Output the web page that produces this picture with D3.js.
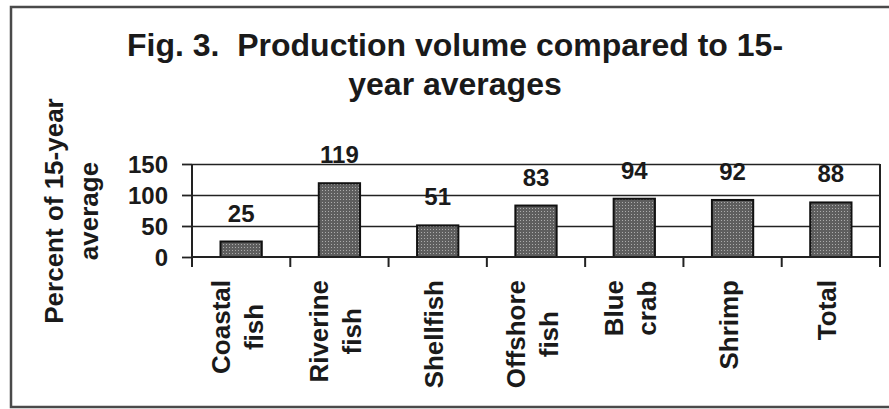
<!DOCTYPE html>
<html>
<head>
<meta charset="utf-8">
<script src="https://cdn.jsdelivr.net/npm/d3@7/dist/d3.min.js"></script>
<style>
  body { margin: 0; background: #fff; }
  svg text { font-family: "Liberation Sans", Arial, sans-serif; font-weight: bold; fill: #1a1a1a; }
</style>
</head>
<body>
<svg width="889" height="409"></svg>
<script>
// chart data
var categories = [['Coastal', 'fish'], ['Riverine', 'fish'], ['Shellfish'], ['Offshore', 'fish'], ['Blue', 'crab'], ['Shrimp'], ['Total']];
var values = [25, 119, 51, 83, 94, 92, 88];
var yTicks = [0, 50, 100, 150];
var titleLines = ['Fig. 3.\u00a0 Production volume compared to 15-', 'year averages'];
var yLabelLines = ['Percent of 15-year', 'average'];

var svg = d3.select('svg'),
    plot = {left: 192, right: 880, top: 164, bottom: 257};

var keys = categories.map(function(c) { return c.join(' '); });

var x = d3.scaleBand()
      .domain(keys)
      .range([plot.left, plot.right])
      .paddingInner(0.58)
      .paddingOuter(0.29),
    y = d3.scaleLinear()
      .domain([0, 150])
      .range([plot.bottom, plot.top]);

// dotted fill like the printed bars
var pat = svg.append('defs').append('pattern')
    .attr('id', 'dots')
    .attr('width', 3).attr('height', 3)
    .attr('patternUnits', 'userSpaceOnUse');
pat.append('rect').attr('width', 3).attr('height', 3).attr('fill', '#5e5e5e');
pat.append('rect').attr('x', 1).attr('y', 1).attr('width', 1).attr('height', 1).attr('fill', '#ababab');

// outer frame
svg.append('rect')
    .attr('x', 11).attr('y', 7)
    .attr('width', 900).attr('height', 400)
    .attr('fill', 'none')
    .attr('stroke', '#4a4a4a')
    .attr('stroke-width', 2.5);

// title
svg.append('g').selectAll('text')
  .data(titleLines)
  .enter().append('text')
    .attr('x', 455)
    .attr('y', function(d, i) { return 56 + i * 39; })
    .attr('text-anchor', 'middle')
    .style('font-size', '32px')
    .text(function(d) { return d; });

// gridlines
svg.append('g')
    .attr('transform', 'translate(' + plot.left + ',0)')
    .call(d3.axisLeft(y).tickValues(yTicks.slice(1)).tickSize(-(plot.right - plot.left)).tickFormat(''))
    .call(function(g) { g.select('.domain').remove(); })
    .selectAll('line')
      .attr('stroke', '#222')
      .attr('stroke-width', 1.6);

// y axis
var yAxis = svg.append('g')
    .attr('transform', 'translate(' + plot.left + ',0)')
    .call(d3.axisLeft(y).tickValues(yTicks).tickSize(10).tickPadding(14).tickSizeOuter(0));
yAxis.select('.domain').remove();
yAxis.selectAll('line').attr('stroke', '#222').attr('stroke-width', 1.8);
yAxis.selectAll('text')
    .attr('dy', '0.35em')
    .style('font-size', '24px')
    .style('font-family', '"Liberation Sans", Arial, sans-serif')
    .attr('fill', '#1a1a1a');

// y label
svg.append('g')
    .attr('transform', 'translate(0,211) rotate(-90)')
  .selectAll('text')
  .data(yLabelLines)
  .enter().append('text')
    .attr('x', 0)
    .attr('y', function(d, i) { return 63 + i * 35; })
    .attr('text-anchor', 'middle')
    .style('font-size', '26px')
    .text(function(d) { return d; });

// bars
svg.append('g').selectAll('rect')
  .data(values)
  .enter().append('rect')
    .attr('x', function(d, i) { return x(keys[i]); })
    .attr('width', x.bandwidth())
    .attr('y', function(d) { return y(d); })
    .attr('height', function(d) { return y(0) - y(d); })
    .attr('fill', 'url(#dots)')
    .attr('stroke', '#111')
    .attr('stroke-width', 2);

// value labels
svg.append('g').selectAll('text')
  .data(values)
  .enter().append('text')
    .attr('x', function(d, i) { return x(keys[i]) + x.bandwidth() / 2; })
    .attr('y', function(d) { return y(d) - 20; })
    .attr('text-anchor', 'middle')
    .style('font-size', '24px')
    .text(function(d) { return d; });

// plot frame: left axis, baseline, right edge, with tick marks between categories
var bounds = d3.range(keys.length + 1).map(function(i) { return plot.left + i * x.step(); });
var frame = svg.append('g').attr('stroke', '#222').attr('stroke-width', 2).attr('fill', 'none');
frame.append('line')
    .attr('x1', plot.left).attr('x2', plot.right)
    .attr('y1', y(0)).attr('y2', y(0));
frame.append('line')
    .attr('x1', plot.left).attr('x2', plot.left)
    .attr('y1', y(150)).attr('y2', y(0));
frame.append('line')
    .attr('x1', plot.right).attr('x2', plot.right)
    .attr('y1', y(150)).attr('y2', y(0));
frame.selectAll('.tick')
  .data(bounds)
  .enter().append('line')
    .attr('x1', function(d) { return d; }).attr('x2', function(d) { return d; })
    .attr('y1', y(0)).attr('y2', y(0) + 10);

// category labels, rotated, block top-aligned under the axis
var lineH = 33, labelTop = 280;
categories.forEach(function(lines, i) {
  var cx = x(keys[i]) + x.bandwidth() / 2;
  var g = svg.append('g')
      .attr('transform', 'translate(' + cx + ',' + labelTop + ') rotate(-90)');
  var t = g.selectAll('text')
    .data(lines)
    .enter().append('text')
      .attr('text-anchor', 'middle')
      .attr('y', function(d, j) { return (j - (lines.length - 1) / 2) * lineH + 5; })
      .style('font-size', '26px')
      .text(function(d) { return d; });
  var longest = d3.max(t.nodes(), function(n) { return n.getComputedTextLength(); });
  t.attr('x', -longest / 2);
});
</script>
</body>
</html>
